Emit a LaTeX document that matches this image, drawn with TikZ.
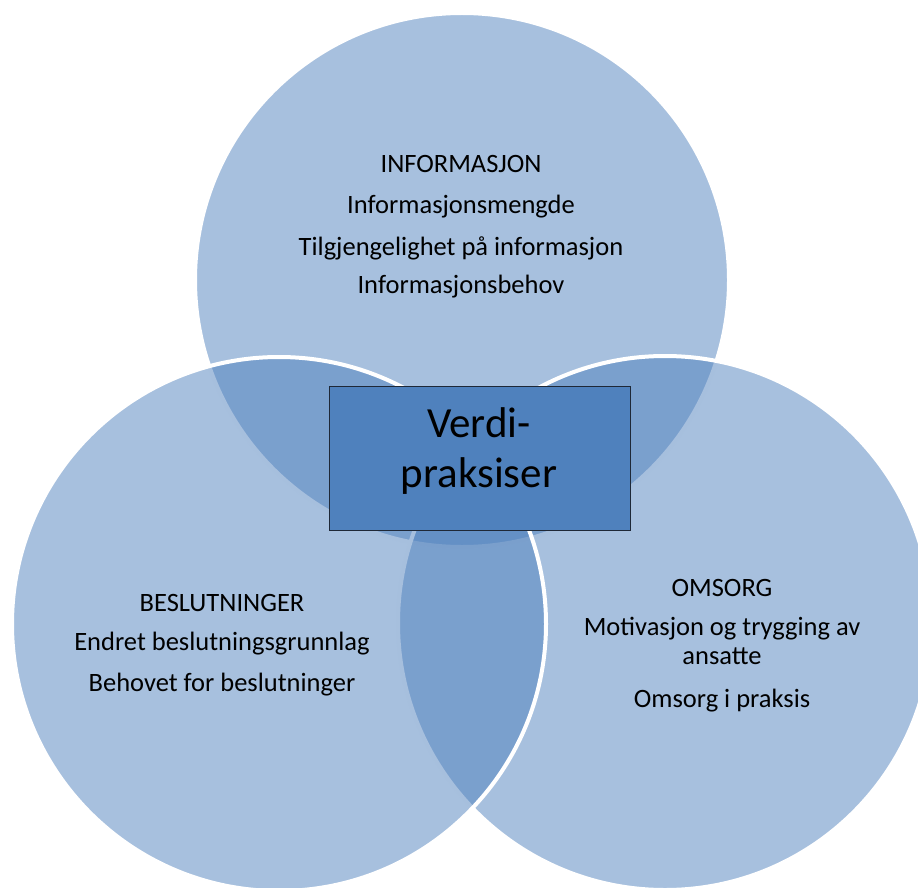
\documentclass[tikz,border=0pt]{standalone}
\usepackage{fontspec}
\setmainfont{Carlito}
\definecolor{accent}{RGB}{79,129,189}
\definecolor{rectedge}{RGB}{30,40,55}
\tikzset{
  venn/.style={circle, minimum size=534pt, inner sep=0pt, fill=accent, fill opacity=0.5, draw=white, draw opacity=1, line width=4pt},
  label/.style={align=center, text=black, font=\fontsize{26.5}{29}\selectfont, inner sep=0pt, anchor=base},
  centerbox/.style={draw=rectedge, line width=1pt, fill=accent, minimum width=301pt, minimum height=144pt, inner sep=0pt},
}
\begin{document}
\begin{tikzpicture}[x=1pt, y=-1pt]
\useasboundingbox (0,0) rectangle (918,888);
\node[venn] (top) at (462,280) {};
\node[venn] (right) at (665,623) {};
\node[venn] (left) at (279,624) {};
\node[centerbox] (box) at (479.5,458) {};
\node[align=center, font=\fontsize{43}{50}\selectfont, inner sep=0pt, anchor=base] (boxtext) at (479,487) {Verdi-\\praksiser};
\node[label] (info) at (461,293) {INFORMASJON\\[12pt]Informasjonsmengde\\[13pt]Tilgjengelighet på informasjon\\[9pt]Informasjonsbehov};
\node[label] (besl) at (222,691) {BESLUTNINGER\\[10pt]Endret beslutningsgrunnlag\\[12pt]Behovet for beslutninger};
\node[label] (omsorg) at (722,707) {OMSORG\\[10pt]Motivasjon og trygging av\\ansatte\\[14pt]Omsorg i praksis};
\end{tikzpicture}
\end{document}
